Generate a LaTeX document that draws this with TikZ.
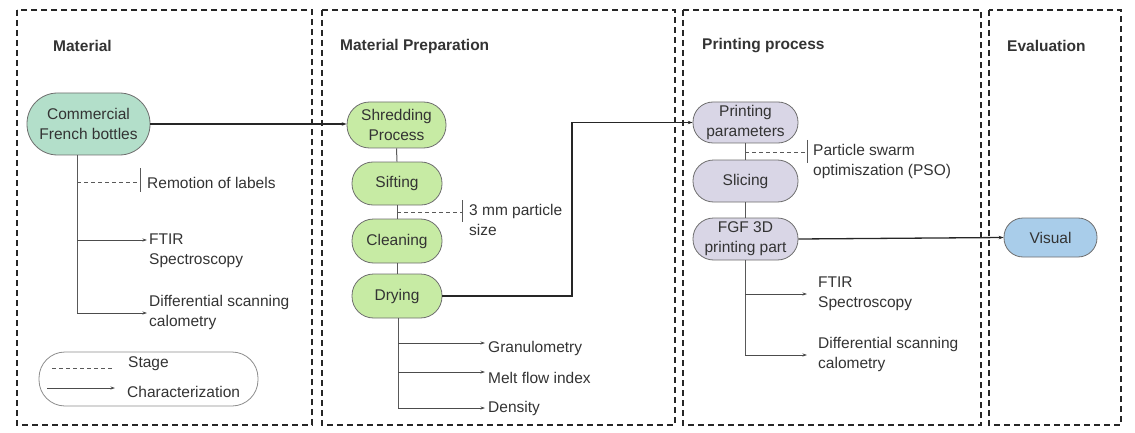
\documentclass[tikz,border=0pt]{standalone}
\usepackage{fontspec}
\setmainfont{Liberation Sans}
\usetikzlibrary{arrows.meta}
\definecolor{txt}{HTML}{333333}
\definecolor{mint}{HTML}{B3DFCA}
\definecolor{lgreen}{HTML}{C7EBA4}
\definecolor{lav}{HTML}{D9D6E6}
\definecolor{lblue}{HTML}{A9CDEA}
\definecolor{edge}{HTML}{6E6E6E}
\begin{document}
\begin{tikzpicture}[x=1pt,y=-1pt,
  font=\fontsize{15.5}{20}\selectfont, text=txt,
  panel/.style={draw=black!85, line width=1.8pt, dash pattern=on 6pt off 4pt},
  title/.style={font=\fontsize{15.5}{20}\selectfont\bfseries, anchor=west, inner sep=0pt},
  pill/.style={draw=edge, line width=0.8pt, rectangle, align=center, inner sep=0pt},
  lbl/.style={anchor=west, align=left, inner sep=0pt},
  flow/.style={draw=black!85, line width=1.3pt, -{Stealth[length=5pt,width=3.5pt]}},
  link/.style={draw=black!65, line width=1pt},
  arr/.style={draw=black!70, line width=1pt, -{Stealth[length=4.5pt,width=3pt]}},
  stagel/.style={draw=black!65, line width=0.9pt, dash pattern=on 4pt off 3pt},
  tick/.style={draw=black!65, line width=1pt}]
\useasboundingbox (0,0) rectangle (1135,433);

% panels
\draw[panel] (17,10) rectangle (312,425);
\draw[panel] (322,10) rectangle (675,425);
\draw[panel] (683,10) rectangle (981,425);
\draw[panel] (989,10) rectangle (1121,425);

% titles
\node[title] (t1) at (53,46) {Material};
\node[title] (t2) at (340,46) {Material Preparation};
\node[title] (t3) at (702,46) {Printing process};
\node[title] (t4) at (1007,46) {Evaluation};

% main nodes
\node[pill, fill=mint, minimum width=123pt, minimum height=62pt, rounded corners=30.5pt] (cfb) at (88.5,124) {Commercial\\French bottles};
\node[pill, fill=lgreen, minimum width=99pt, minimum height=46pt, rounded corners=22.5pt] (shred) at (396.5,125) {Shredding\\Process};
\node[pill, fill=lgreen, minimum width=90pt, minimum height=43pt, rounded corners=21pt] (sift) at (397,183.5) {Sifting};
\node[pill, fill=lgreen, minimum width=90pt, minimum height=44pt, rounded corners=21.5pt] (clean) at (397,241) {Cleaning};
\node[pill, fill=lgreen, minimum width=90pt, minimum height=44pt, rounded corners=21.5pt] (dry) at (397,296) {Drying};
\node[pill, fill=lav, minimum width=105pt, minimum height=41pt, rounded corners=20pt] (pp) at (745.5,122.5) {Printing\\parameters};
\node[pill, fill=lav, minimum width=105pt, minimum height=42pt, rounded corners=20.5pt] (slice) at (745.5,181) {Slicing};
\node[pill, fill=lav, minimum width=105pt, minimum height=42pt, rounded corners=20.5pt] (fgf) at (745.5,239) {FGF 3D\\printing part};
\node[pill, fill=lblue, minimum width=93pt, minimum height=39pt, rounded corners=19pt] (vis) at (1050.5,237.5) {Visual};

% main flow
\draw[flow] (cfb.east |- 0,124) -- (shred.west |- 0,124);
\coordinate (turn) at (572,296);
\draw[flow] (dry.east) -- (turn) |- (pp.west);
\draw[flow] (fgf.east) -- (vis.west);

% vertical chains
\draw[link] (shred.south) -- (sift.north);
\draw[link] (sift.south) -- (clean.north);
\draw[link] (clean.south) -- (dry.north);
\draw[link] (pp.south) -- (slice.north);
\draw[link] (slice.south) -- (fgf.north);

% --- Material panel branches
\coordinate (c0) at (77,155);
\coordinate (c1) at (77,313);
\draw[link] (c0) -- (c1);
\coordinate (cs) at (77,182);
\coordinate (cse) at (140,182);
\draw[stagel] (cs) -- (cse);
\draw[tick] (140,168) -- (140,192);
\node[lbl] (rem) at (147,183) {Remotion of labels};
\coordinate (ca) at (77,240);
\node[lbl] (ftir1) at (149,251) {FTIR\\Spectroscopy};
\draw[arr] (ca) -- (ca -| 147,0);
\node[lbl] (dsc1) at (149,312) {Differential scanning\\calometry};
\draw[arr] (c1) -- (c1 -| 147,0);

% legend
\draw[draw=black!45, line width=0.8pt, rounded corners=26pt] (39,352) rectangle (258,406);
\coordinate (l1a) at (52,368); \coordinate (l1b) at (113,368);
\draw[stagel] (l1a) -- (l1b);
\node[lbl] (lstage) at (128,364) {Stage};
\coordinate (l2a) at (47,388); \coordinate (l2b) at (115,388);
\draw[arr] (l2a) -- (l2b);
\node[lbl] (lchar) at (127,392) {Characterization};

% --- Material preparation branches
\coordinate (ps) at (397,212);
\coordinate (pse) at (462,212);
\draw[stagel] (ps) -- (pse);
\draw[tick] (462,200) -- (462,222);
\node[lbl] (mm) at (469,220) {3 mm particle\\size};
\coordinate (d0) at (398,318);
\coordinate (d3) at (398,408);
\draw[link] (d0) -- (d3);
\coordinate (d1) at (398,343);
\coordinate (d2) at (398,372);
\node[lbl] (gran) at (488,348) {Granulometry};
\node[lbl] (mfi) at (488,377.5) {Melt flow index};
\node[lbl] (dens) at (488,408) {Density};
\draw[arr] (d1) -- (d1 -| 485,0);
\draw[arr] (d2) -- (d2 -| 485,0);
\draw[arr] (d3) -- (d3 -| 485,0);

% --- Printing process branches
\coordinate (qs) at (745,152);
\coordinate (qse) at (807,152);
\draw[stagel] (qs) -- (qse);
\draw[tick] (807,140) -- (807,163);
\node[lbl] (pso) at (813,161) {Particle swarm\\optimiszation (PSO)};
\coordinate (f0) at (745,260);
\coordinate (f2) at (745,355);
\draw[link] (f0) -- (f2);
\coordinate (f1) at (745,294);
\node[lbl] (ftir2) at (818,294) {FTIR\\Spectroscopy};
\node[lbl] (dsc2) at (818,354) {Differential scanning\\calometry};
\draw[arr] (f1) -- (f1 -| 807,0);
\draw[arr] (f2) -- (f2 -| 807,0);
\end{tikzpicture}
\end{document}
